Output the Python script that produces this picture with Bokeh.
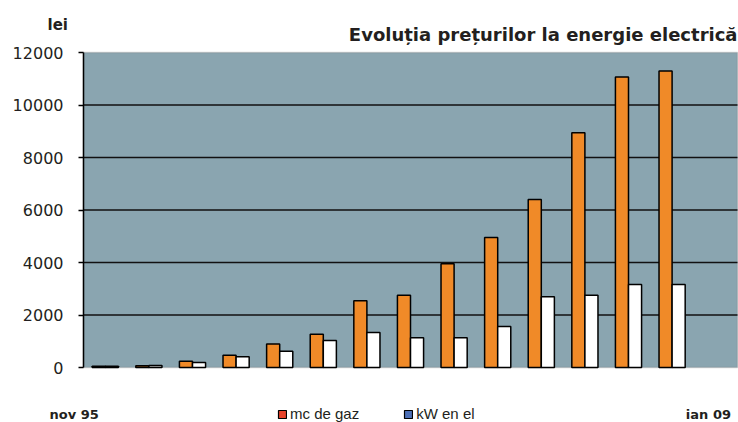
from bokeh.plotting import figure
from bokeh.models import (Label, Legend, LegendItem, FixedTicker, Range1d, BoxAnnotation,
                          ColumnDataSource)
from bokeh.embed import file_html
from bokeh.resources import INLINE

# data (lei)
periods = list(range(14))
gaz = [50, 70, 240, 470, 900, 1270, 2540, 2750, 3950, 4950, 6400, 8940, 11070, 11300]
kw = [50, 80, 190, 410, 620, 1030, 1330, 1130, 1130, 1560, 2700, 2750, 3160, 3160]
y_ticks = [0, 2000, 4000, 6000, 8000, 10000, 12000]
grid_ticks = [2000, 4000, 6000, 8000, 10000]
series_names = ["mc de gaz", "kW en el"]
title_text = "Evoluția prețurilor la energie electrică"
unit_text = "lei"
start_label = "nov  95"
end_label = "ian  09"
n_slots = 15
y_max = 12000

FONT = "DejaVu Sans"
LFONT = "Liberation Sans"
TXT = "#231f20"
ORANGE = "#f08a28"
BG = "#8aa5b0"
W, H = 738, 422
# plot-area placement inside the canvas (pixels)
PL, PR, PT, PB = 83, 737, 52, 367

xs = n_slots / (PR - PL)          # data units per pixel (x)
ys = y_max / (PB - PT)            # data units per pixel (y)
x_range = Range1d(-PL * xs, n_slots + (W - PR) * xs)
y_range = Range1d(-(H - PB) * ys, y_max + PT * ys)

p = figure(width=W, height=H, output_backend="svg", toolbar_location=None, title=None,
           x_range=x_range, y_range=y_range,
           min_border=0, min_border_left=0, min_border_right=0,
           min_border_top=0, min_border_bottom=0)
p.background_fill_color = "white"
p.border_fill_color = "white"
p.outline_line_color = None
p.xaxis.visible = False
p.grid.visible = False

# plot area
p.add_layout(BoxAnnotation(left=0, right=n_slots, bottom=0, top=y_max, fill_color=BG,
                           fill_alpha=1, line_color="#7f7f7f", line_width=1.5, level="underlay"))
# horizontal grid lines
p.segment(x0=[0] * len(grid_ticks), x1=[n_slots] * len(grid_ticks), y0=grid_ticks, y1=grid_ticks,
          line_color="#111111", line_width=1.5)

src = ColumnDataSource(dict(xo=[i + 0.5 - 0.15 for i in periods],
                            xw=[i + 0.5 + 0.15 for i in periods],
                            gaz=gaz, kw=kw))

# legend swatch renderers (colours as in the original legend); zero height, hidden under bar bases
r1 = p.vbar(x="xo", top=0, bottom=0, width=0.3, source=src,
            fill_color="#e8432b", line_color="black", line_width=1.2)
r2 = p.vbar(x="xw", top=0, bottom=0, width=0.3, source=src,
            fill_color="#4c6fb6", line_color="black", line_width=1.2)

p.vbar(x="xo", top="gaz", bottom=0, width=0.3, source=src,
       fill_color=ORANGE, line_color="black", line_width=1.5)
p.vbar(x="xw", top="kw", bottom=0, width=0.3, source=src,
       fill_color="white", line_color="black", line_width=1.5)

ya = p.yaxis[0]
ya.fixed_location = 0
ya.bounds = (0, y_max)
ya.ticker = FixedTicker(ticks=y_ticks)
ya.axis_line_color = "black"
ya.axis_line_width = 1.5
ya.major_tick_line_color = "black"
ya.major_tick_line_width = 1.5
ya.major_tick_out = 5
ya.major_tick_in = 0
ya.minor_tick_line_color = None
ya.major_label_standoff = 15
ya.major_label_text_font = FONT
ya.major_label_text_font_size = "16px"
ya.major_label_text_color = TXT

legend = Legend(items=[LegendItem(label=series_names[0], renderers=[r1]),
                       LegendItem(label=series_names[1], renderers=[r2])],
                orientation="horizontal", location=(277, 0),
                background_fill_alpha=0, border_line_alpha=0,
                padding=0, margin=0, spacing=44, label_standoff=3,
                glyph_width=10, glyph_height=10, label_height=10,
                label_text_font=LFONT, label_text_font_size="15px", label_text_color=TXT)
p.add_layout(legend)

# texts (screen pixels from bottom-left)
def txt(x, y, s, size, align="left", bold=True):
    p.add_layout(Label(x=x, y=y, x_units="screen", y_units="screen", text=s,
                       text_align=align, text_baseline="alphabetic", text_font=FONT,
                       text_font_size=size, text_font_style="bold" if bold else "normal",
                       text_color=TXT))

txt(PR, H - 34, title_text, "18px", align="right")
txt(47, H - 24, unit_text, "15px")
txt(49, 8, start_label, "13px")
txt(735, 8, end_label, "13px", align="right")

open("out.html", "w").write(file_html(p, INLINE))
